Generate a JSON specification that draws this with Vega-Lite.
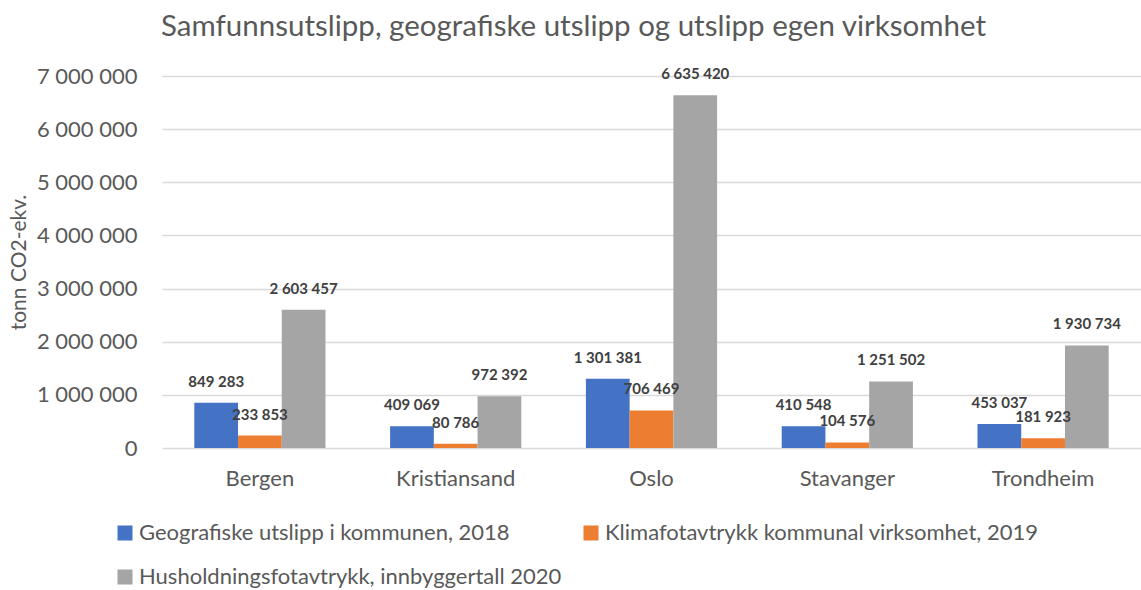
{
  "$schema": "https://vega.github.io/schema/vega-lite/v6.json",
  "autosize": {"type": "none"},
  "width": 979,
  "height": 372,
  "padding": {"left": 162, "top": 76, "right": 0, "bottom": 142},
  "background": "white",
  "title": {
    "text": "Samfunnsutslipp, geografiske utslipp og utslipp egen virksomhet",
    "font": "Lato",
    "fontSize": 29.5,
    "fontWeight": "normal",
    "color": "#595959",
    "anchor": "middle",
    "dx": -78,
    "offset": 23
  },
  "config": {
    "locale": {"number": {"decimal": ",", "thousands": " ", "grouping": [3], "currency": ["", " kr"]}},
    "font": "Lato",
    "view": {"stroke": null}
  },
  "data": {
    "values": [
      {"by": "Bergen", "serie": "Geografiske utslipp i kommunen, 2018", "verdi": 849283},
      {"by": "Bergen", "serie": "Klimafotavtrykk kommunal virksomhet, 2019", "verdi": 233853},
      {"by": "Bergen", "serie": "Husholdningsfotavtrykk, innbyggertall 2020", "verdi": 2603457},
      {"by": "Kristiansand", "serie": "Geografiske utslipp i kommunen, 2018", "verdi": 409069},
      {"by": "Kristiansand", "serie": "Klimafotavtrykk kommunal virksomhet, 2019", "verdi": 80786},
      {"by": "Kristiansand", "serie": "Husholdningsfotavtrykk, innbyggertall 2020", "verdi": 972392},
      {"by": "Oslo", "serie": "Geografiske utslipp i kommunen, 2018", "verdi": 1301381},
      {"by": "Oslo", "serie": "Klimafotavtrykk kommunal virksomhet, 2019", "verdi": 706469},
      {"by": "Oslo", "serie": "Husholdningsfotavtrykk, innbyggertall 2020", "verdi": 6635420},
      {"by": "Stavanger", "serie": "Geografiske utslipp i kommunen, 2018", "verdi": 410548},
      {"by": "Stavanger", "serie": "Klimafotavtrykk kommunal virksomhet, 2019", "verdi": 104576},
      {"by": "Stavanger", "serie": "Husholdningsfotavtrykk, innbyggertall 2020", "verdi": 1251502},
      {"by": "Trondheim", "serie": "Geografiske utslipp i kommunen, 2018", "verdi": 453037},
      {"by": "Trondheim", "serie": "Klimafotavtrykk kommunal virksomhet, 2019", "verdi": 181923},
      {"by": "Trondheim", "serie": "Husholdningsfotavtrykk, innbyggertall 2020", "verdi": 1930734}
    ]
  },
  "encoding": {
    "x": {
      "field": "by",
      "type": "nominal",
      "sort": null,
      "scale": {"paddingInner": 0.33, "paddingOuter": 0.165},
      "axis": {
        "title": null,
        "labelAngle": 0,
        "labelFontSize": 22,
        "labelColor": "#595959",
        "labelPadding": 20,
        "ticks": false,
        "domain": false,
        "grid": false
      }
    },
    "xOffset": {
      "field": "serie",
      "type": "nominal",
      "sort": ["Geografiske utslipp i kommunen, 2018", "Klimafotavtrykk kommunal virksomhet, 2019", "Husholdningsfotavtrykk, innbyggertall 2020"]
    },
    "y": {
      "field": "verdi",
      "type": "quantitative",
      "scale": {"domain": [0, 7000000], "nice": false},
      "axis": {
        "title": "tonn CO2-ekv.",
        "titleFontSize": 21,
        "titleFontWeight": "normal",
        "titleColor": "#595959",
        "titlePadding": 7,
        "values": [0, 1000000, 2000000, 3000000, 4000000, 5000000, 6000000, 7000000],
        "format": ",d",
        "labelFontSize": 22,
        "labelColor": "#595959",
        "labelPadding": 25,
        "ticks": false,
        "domain": false,
        "grid": true,
        "gridColor": "#d9d9d9",
        "gridWidth": 1.5
      }
    }
  },
  "layer": [
    {
      "mark": {"type": "bar"},
      "encoding": {
        "color": {
          "field": "serie",
          "type": "nominal",
          "sort": ["Geografiske utslipp i kommunen, 2018", "Klimafotavtrykk kommunal virksomhet, 2019", "Husholdningsfotavtrykk, innbyggertall 2020"],
          "scale": {
            "domain": ["Geografiske utslipp i kommunen, 2018", "Klimafotavtrykk kommunal virksomhet, 2019", "Husholdningsfotavtrykk, innbyggertall 2020"],
            "range": ["#4472C4", "#ED7D31", "#A5A5A5"]
          },
          "legend": {
            "title": null,
            "orient": "none",
            "legendX": -48,
            "legendY": 446,
            "direction": "horizontal",
            "columns": 2,
            "gridAlign": "none",
            "symbolType": "square",
            "symbolSize": 225,
            "symbolStrokeWidth": 0,
            "labelFontSize": 22,
            "labelColor": "#595959",
            "labelLimit": 600,
            "labelOffset": 3,
            "rowPadding": 22,
            "columnPadding": 18
          }
        }
      }
    },
    {
      "mark": {"type": "text", "dy": -21, "baseline": "middle", "fontSize": 15, "fontWeight": "bold", "color": "#404040"},
      "encoding": {
        "text": {"field": "verdi", "type": "quantitative", "format": ",d"}
      }
    }
  ]
}
